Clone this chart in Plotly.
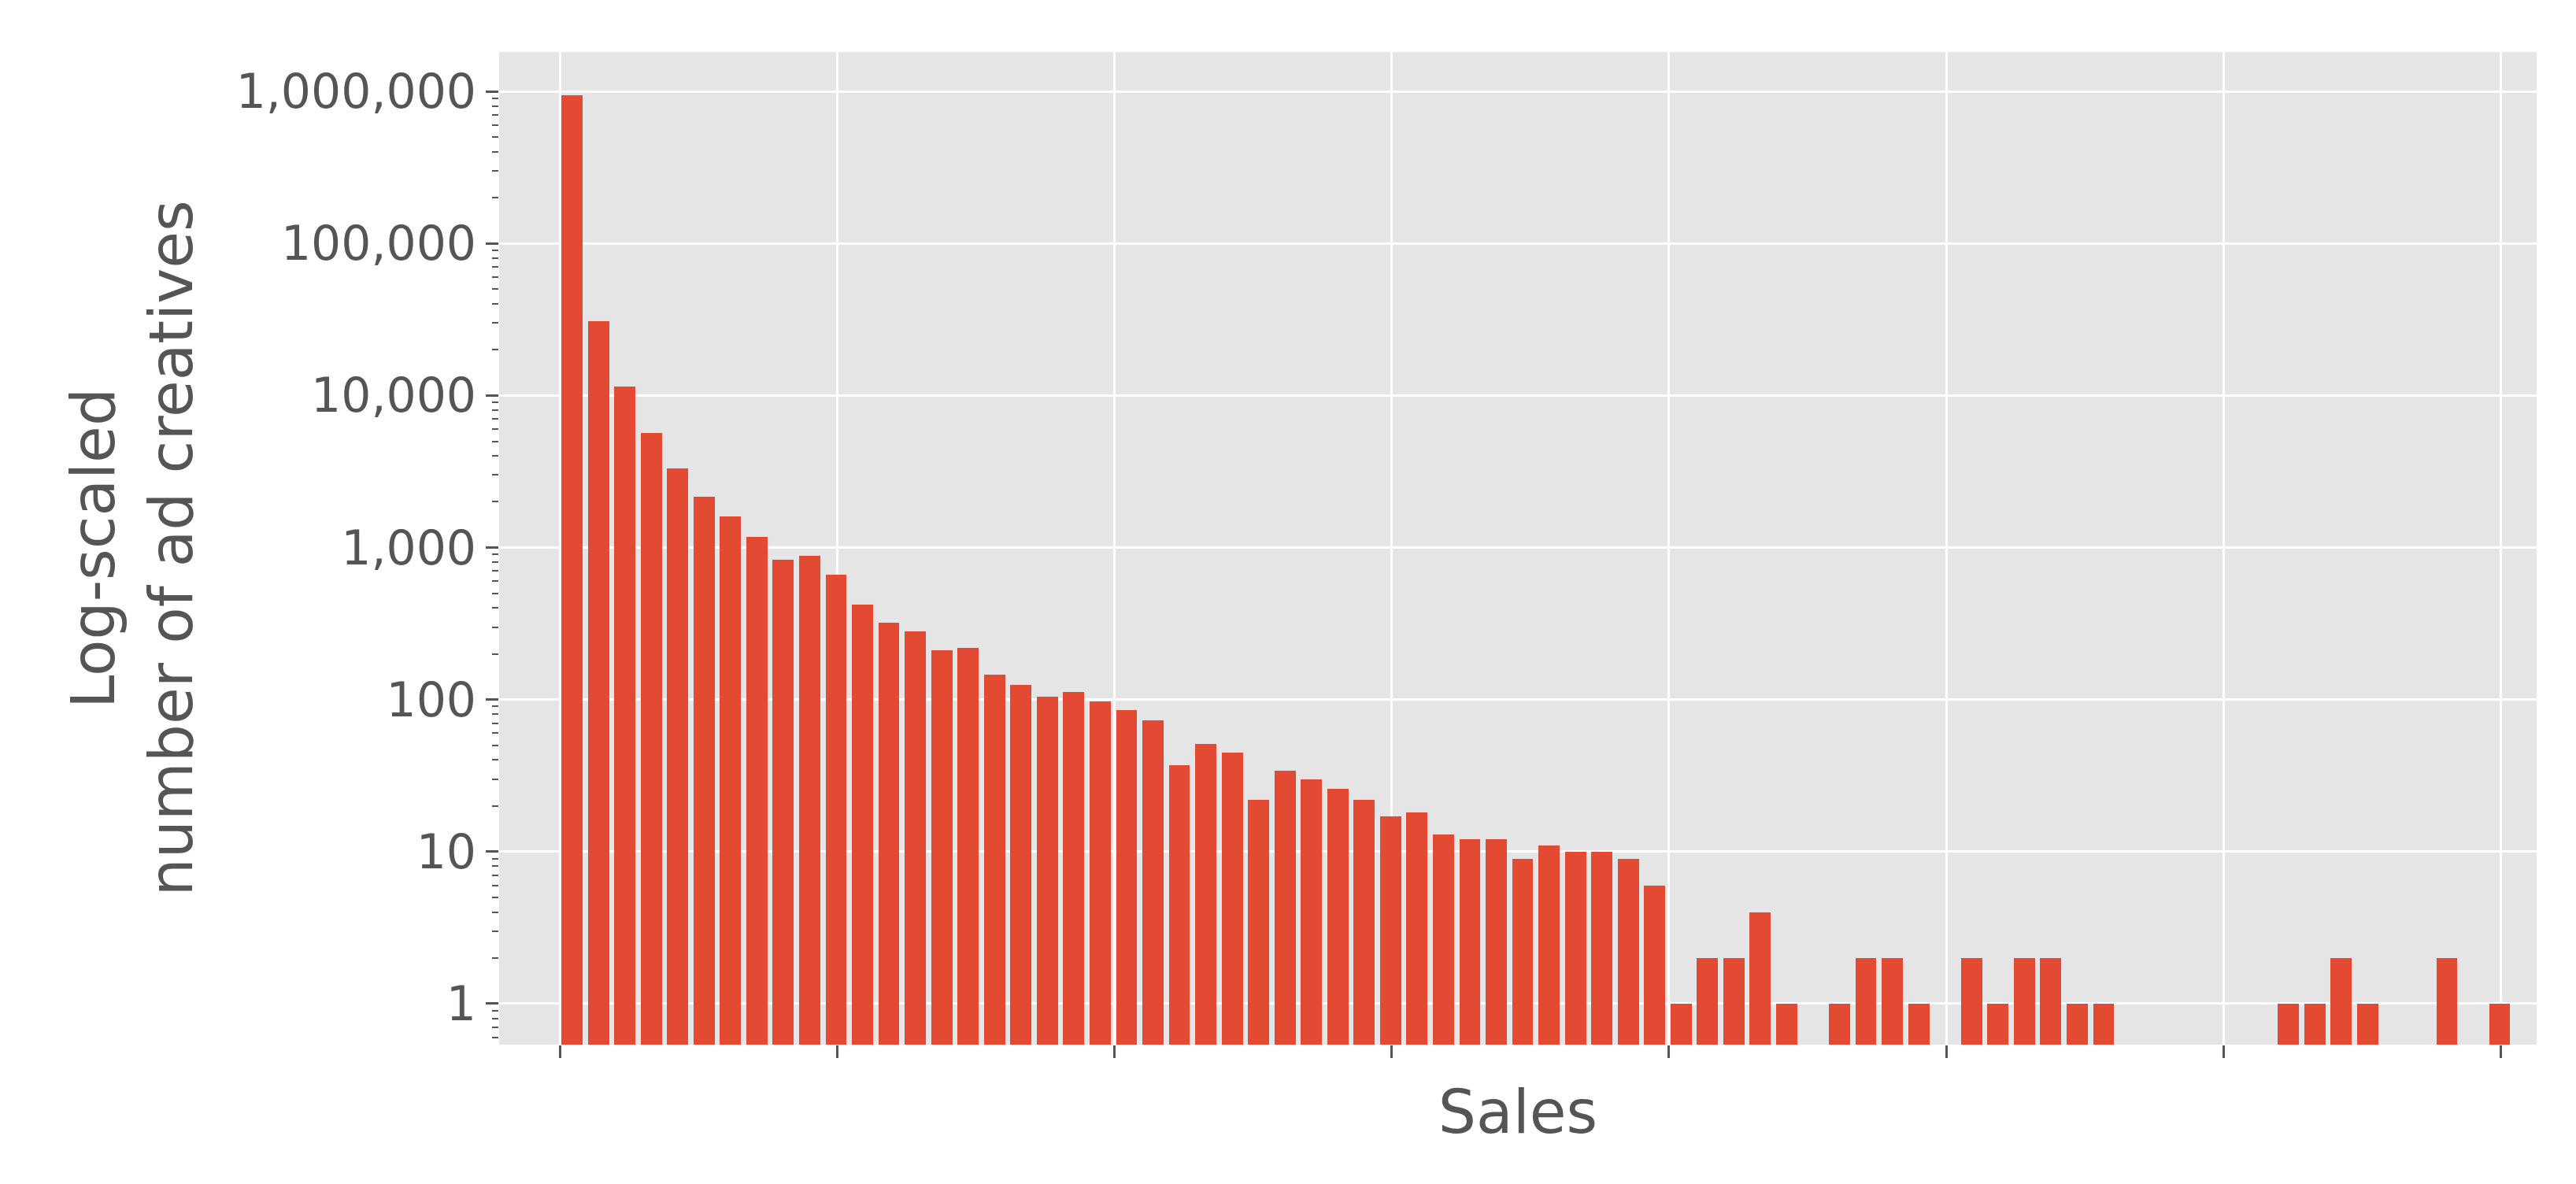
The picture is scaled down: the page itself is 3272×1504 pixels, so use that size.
import plotly.graph_objects as go

counts = [950000, 31000, 11500, 5700, 3300, 2150, 1600, 1180, 830, 880,
          660, 420, 320, 280, 210, 220, 145, 125, 105, 112,
          97, 85, 73, 37, 51, 45, 22, 34, 30, 26,
          22, 17, 18, 13, 12, 12, 9, 11, 10, 10,
          9, 6, 1, 2, 2, 4, 1, 0, 1, 2,
          2, 1, 0, 2, 1, 2, 2, 1, 1, 0,
          0, 0, 0, 0, 0, 1, 1, 2, 1, 0,
          0, 2, 0, 1]
bins = list(range(len(counts)))
xs = [b for b, c in zip(bins, counts) if c > 0]
ys = [c for c in counts if c > 0]
y_ticks = [1, 10, 100, 1000, 10000, 100000, 1000000]
x_ticks = [-0.46 + 10.5 * j for j in range(8)]

fig = go.Figure(go.Bar(x=xs, y=ys, width=0.8, marker=dict(color="#E24A33", line=dict(width=0))))
fig.update_layout(
    width=3272, height=1504, paper_bgcolor="white", plot_bgcolor="#E5E5E5",
    margin=dict(l=626, r=58, t=58, b=185),
    font=dict(family="DejaVu Sans", color="#555555"),
    showlegend=False, bargap=0,
)
fig.update_xaxes(range=[-2.76, 74.4], tickvals=x_ticks, ticktext=[""] * 8,
                 ticks="outside", ticklen=16, tickwidth=3, tickcolor="#555555",
                 showgrid=True, gridcolor="white", gridwidth=3, zeroline=False,
                 title=dict(text="Sales", font=dict(size=76, color="#555555"), standoff=40))
fig.update_yaxes(type="log", range=[-0.27, 6.26], tickvals=y_ticks,
                 ticktext=[f"{v:,}" for v in y_ticks], tickfont=dict(size=60, color="#555555"),
                 ticks="outside", ticklen=16, tickwidth=3, tickcolor="#555555",
                 minor=dict(ticks="outside", ticklen=8, tickwidth=2, tickcolor="#555555",
                            dtick="D1", showgrid=False),
                 showgrid=True, gridcolor="white", gridwidth=3, zeroline=False,
                 title=dict(text="Log-scaled<br>number of ad creatives",
                            font=dict(size=76, color="#555555"), standoff=30))
fig.write_html("out.html")
